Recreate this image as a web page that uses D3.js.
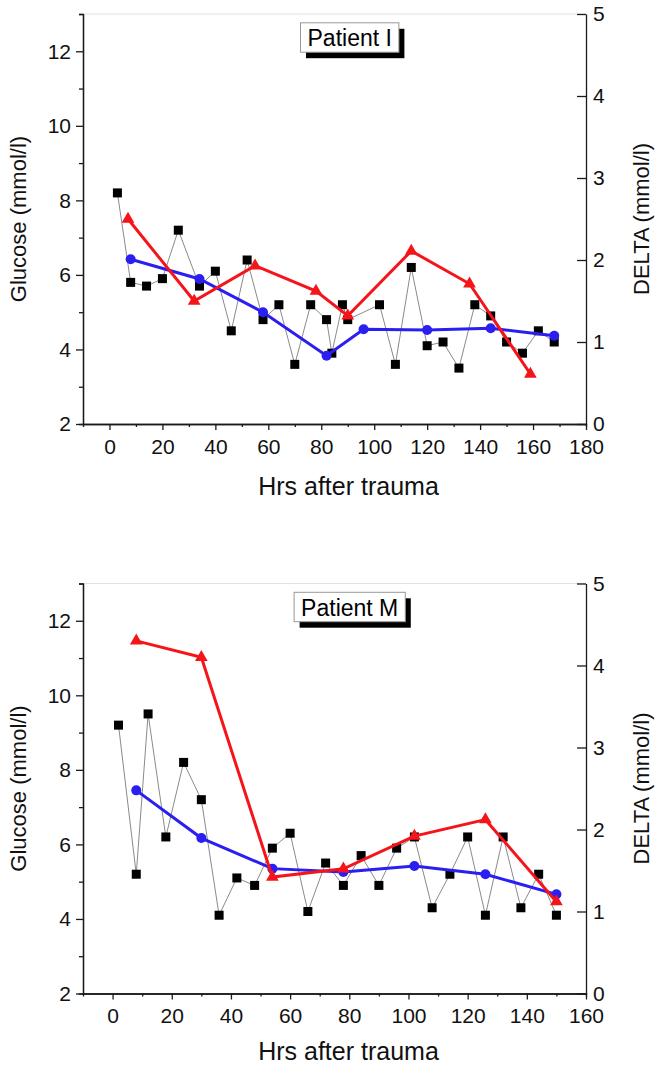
<!DOCTYPE html>
<html>
<head>
<meta charset="utf-8">
<script src="https://cdn.jsdelivr.net/npm/d3@7"></script>
<style>
    body { margin: 0; background: #ffffff; }
    svg { display: block; font-family: "Liberation Sans", Arial, sans-serif; }
</style>
</head>
<body>
<script>
/////////////////DATA////////////////////////////
// Patient I
var glucoseHrsI = [3, 8, 14, 20, 26, 34, 40, 46, 52, 58, 64, 70, 76, 82, 84, 88, 90, 102, 108, 114, 120, 126, 132, 138, 144, 150, 156, 162, 168];
var glucoseI = [8.2, 5.8, 5.7, 5.9, 7.2, 5.7, 6.1, 4.5, 6.4, 4.8, 5.2, 3.6, 5.2, 4.8, 3.9, 5.2, 4.8, 5.2, 3.6, 6.2, 4.1, 4.2, 3.5, 5.2, 4.9, 4.2, 3.9, 4.5, 4.2];
var meanHrsI = [8, 34, 58, 82, 96, 120, 144, 168];
var meanI = [6.42, 5.89, 5.0, 3.83, 4.54, 4.52, 4.57, 4.37];
var deltaHrsI = [7, 32, 55, 78, 90, 114, 136, 159];
var deltaI = [2.5, 1.5, 1.93, 1.62, 1.32, 2.11, 1.71, 0.61];

// Patient M
var glucoseHrsM = [2, 8, 12, 18, 24, 30, 36, 42, 48, 54, 60, 66, 72, 78, 84, 90, 96, 102, 108, 114, 120, 126, 132, 138, 144, 150];
var glucoseM = [9.2, 5.2, 9.5, 6.2, 8.2, 7.2, 4.1, 5.1, 4.9, 5.9, 6.3, 4.2, 5.5, 4.9, 5.7, 4.9, 5.9, 6.2, 4.3, 5.2, 6.2, 4.1, 6.2, 4.3, 5.2, 4.1];
var meanHrsM = [8, 30, 54, 78, 102, 126, 150];
var meanM = [7.45, 6.17, 5.35, 5.26, 5.42, 5.2, 4.66];
var deltaHrsM = [8, 30, 54, 78, 102, 126, 150];
var deltaM = [4.3, 4.1, 1.42, 1.52, 1.92, 2.12, 1.12];

// axes
var glucoseDomain = [2, 13];
var deltaDomain = [0, 5];
var glucoseTicks = [2, 4, 6, 8, 10, 12];
var glucoseMinorTicks = [3, 5, 7, 9, 11, 13];
var deltaTicks = [0, 1, 2, 3, 4, 5];
var hrsTicksI = [0, 20, 40, 60, 80, 100, 120, 140, 160, 180];
var hrsMinorTicksI = [10, 30, 50, 70, 90, 110, 130, 150, 170];
var hrsTicksM = [0, 20, 40, 60, 80, 100, 120, 140, 160];
var hrsMinorTicksM = [10, 30, 50, 70, 90, 110, 130, 150];
/////////////////END DATA////////////////////////////

var zip = function (xs, ys) {
    return xs.map(function (x, i) { return [x, ys[i]]; });
};

var panels = [
    {
        title: 'Patient I', top: 14, xDomain: [-10, 180], titleGap: 71,
        ticks: hrsTicksI, minor: hrsMinorTicksI,
        glucose: zip(glucoseHrsI, glucoseI), mean: zip(meanHrsI, meanI), delta: zip(deltaHrsI, deltaI)
    },
    {
        title: 'Patient M', top: 583.5, xDomain: [-10, 160], titleGap: 66,
        ticks: hrsTicksM, minor: hrsMinorTicksM,
        glucose: zip(glucoseHrsM, glucoseM), mean: zip(meanHrsM, meanM), delta: zip(deltaHrsM, deltaM)
    }
];

var W = 662, H = 1068;
var left = 83, right = 586, plotH = 410;
var RED = '#f5141a', BLUE = '#2a1ff0';

var svg = d3.select('body').append('svg').attr('width', W).attr('height', H);

panels.forEach(function (p) {
    var g = svg.append('g');
    var bottom = p.top + plotH;

    var x = d3.scaleLinear().domain(p.xDomain).range([left, right]);
    var yG = d3.scaleLinear().domain(glucoseDomain).range([bottom, p.top]);
    var yD = d3.scaleLinear().domain(deltaDomain).range([bottom, p.top]);

    // faint top frame
    g.append('line')
        .attr('x1', left).attr('x2', right)
        .attr('y1', p.top).attr('y2', p.top)
        .attr('stroke', '#e2e2e2').attr('stroke-width', 1);

    var styleAxis = function (sel) {
        sel.selectAll('path, line').attr('stroke', '#1a1a1a').attr('stroke-width', 1.3);
        sel.selectAll('text').attr('font-size', 21).attr('fill', '#111')
            .attr('font-family', '"Liberation Sans", Arial, sans-serif');
    };

    // x axis, minor then major
    g.append('g').attr('transform', 'translate(0,' + bottom + ')')
        .call(d3.axisBottom(x).tickValues(p.minor).tickSize(3).tickFormat(''))
        .call(styleAxis);
    g.append('g').attr('transform', 'translate(0,' + bottom + ')')
        .call(d3.axisBottom(x).tickValues(p.ticks).tickSizeInner(6).tickSizeOuter(0).tickPadding(9))
        .call(styleAxis);

    // left glucose axis
    g.append('g').attr('transform', 'translate(' + left + ',0)')
        .call(d3.axisLeft(yG).tickValues(glucoseMinorTicks).tickSize(4).tickFormat(''))
        .call(styleAxis);
    g.append('g').attr('transform', 'translate(' + left + ',0)')
        .call(d3.axisLeft(yG).tickValues(glucoseTicks).tickSizeInner(7).tickSizeOuter(0).tickPadding(5))
        .call(styleAxis);

    // right delta axis, ticks point inward
    g.append('g').attr('transform', 'translate(' + right + ',0)')
        .call(d3.axisRight(yD).tickValues(deltaTicks).tickFormat(d3.format('d'))
            .tickSizeInner(-9).tickSizeOuter(0).tickPadding(7))
        .call(styleAxis);

    // axis titles
    g.append('text')
        .attr('transform', 'translate(26,' + (p.top + plotH / 2) + ') rotate(-90)')
        .attr('text-anchor', 'middle').attr('font-size', 22).attr('fill', '#111')
        .text('Glucose (mmol/l)');
    g.append('text')
        .attr('transform', 'translate(649,' + (p.top + plotH / 2) + ') rotate(-90)')
        .attr('text-anchor', 'middle').attr('font-size', 22).attr('fill', '#111')
        .text('DELTA (mmol/l)');
    g.append('text')
        .attr('x', (left + right) / 2 + 14).attr('y', bottom + p.titleGap)
        .attr('text-anchor', 'middle').attr('font-size', 25).attr('fill', '#111')
        .text('Hrs after trauma');

    // glucose readings
    g.append('path').datum(p.glucose)
        .attr('fill', 'none').attr('stroke', '#8a8a8a').attr('stroke-width', 1)
        .attr('d', d3.line().x(function (d) { return x(d[0]); }).y(function (d) { return yG(d[1]); }));
    g.selectAll('.sq').data(p.glucose).enter().append('rect')
        .attr('x', function (d) { return x(d[0]) - 4.5; })
        .attr('y', function (d) { return yG(d[1]) - 4.5; })
        .attr('width', 9).attr('height', 9).attr('fill', '#000');

    // mean glucose
    g.append('path').datum(p.mean)
        .attr('fill', 'none').attr('stroke', BLUE).attr('stroke-width', 3)
        .attr('d', d3.line().x(function (d) { return x(d[0]); }).y(function (d) { return yG(d[1]); }));
    g.selectAll('.ci').data(p.mean).enter().append('circle')
        .attr('cx', function (d) { return x(d[0]); })
        .attr('cy', function (d) { return yG(d[1]); })
        .attr('r', 5).attr('fill', BLUE);

    // delta
    g.append('path').datum(p.delta)
        .attr('fill', 'none').attr('stroke', RED).attr('stroke-width', 3)
        .attr('d', d3.line().x(function (d) { return x(d[0]); }).y(function (d) { return yD(d[1]); }));
    g.selectAll('.tr').data(p.delta).enter().append('path')
        .attr('transform', function (d) { return 'translate(' + x(d[0]) + ',' + yD(d[1]) + ')'; })
        .attr('d', d3.symbol().type(d3.symbolTriangle).size(70))
        .attr('fill', RED);

    // title box with shadow
    var by = p.top + 8.8, bh = 29.4;
    var t = g.append('text')
        .attr('y', by + bh / 2 + 8.5)
        .attr('text-anchor', 'middle').attr('font-size', 23).attr('fill', '#000')
        .text(p.title);
    var bw = t.node().getComputedTextLength() + 14;
    var bx = 349.7 - bw / 2;
    g.insert('rect', function () { return t.node(); })
        .attr('x', bx + 5.5).attr('y', by + 6).attr('width', bw).attr('height', bh).attr('fill', '#000');
    g.insert('rect', function () { return t.node(); })
        .attr('x', bx).attr('y', by).attr('width', bw).attr('height', bh)
        .attr('fill', '#fff').attr('stroke', '#999').attr('stroke-width', 1);
    t.attr('x', bx + bw / 2);
});
</script>
</body>
</html>
